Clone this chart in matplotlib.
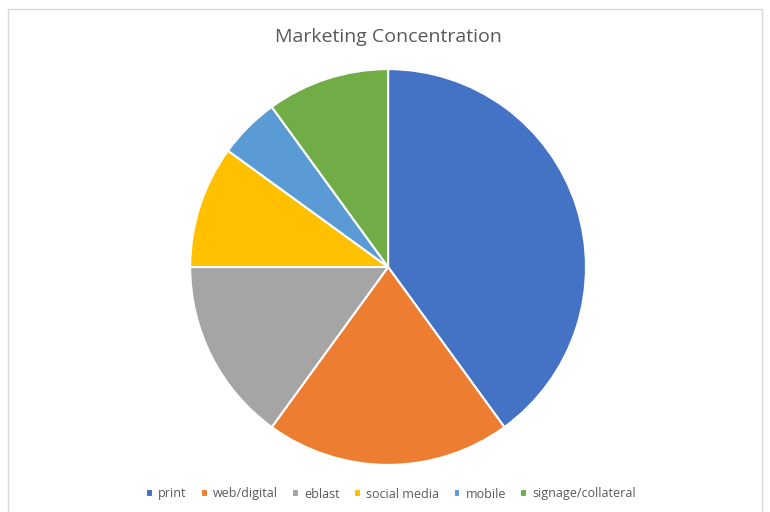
import matplotlib.pyplot as plt
from matplotlib.patches import Rectangle

# data
labels = ['print', 'web/digital', 'eblast', 'social media', 'mobile', 'signage/collateral']
shares = [40, 20, 15, 10, 5, 10]
colors = ['#4472C4', '#ED7D31', '#A5A5A5', '#FFC000', '#5B9BD5', '#70AD47']

plt.rcParams['font.family'] = ['Open Sans', 'DejaVu Sans']

fig = plt.figure(figsize=(7.7, 5.12), dpi=100)

# chart frame
fig.patches.append(Rectangle((8 / 770, -0.05), 754 / 770, 1 - 9 / 512 + 0.05,
                             transform=fig.transFigure, fill=False,
                             edgecolor='#D9D9D9', linewidth=1))

ax = fig.add_axes([0.504 - 0.257, 0.4785 - 0.3867, 0.514, 0.7734])
wedges, _ = ax.pie(shares, colors=colors, startangle=90, counterclock=False,
                   wedgeprops=dict(edgecolor='white', linewidth=1.5))
ax.set_xlim(-1, 1)
ax.set_ylim(-1, 1)
ax.set_aspect('equal')

fig.text(0.504, 1 - 37 / 512, 'Marketing Concentration', ha='center', va='center',
         fontsize=14, color='#595959')

fig.legend(wedges, labels, loc='center', bbox_to_anchor=(0.508, 1 - 494 / 512),
           ncol=6, frameon=False, fontsize=9, labelcolor='#595959',
           handlelength=0.55, handleheight=0.55, handletextpad=0.4,
           columnspacing=1.15)

fig.savefig('out.png', dpi=100)
